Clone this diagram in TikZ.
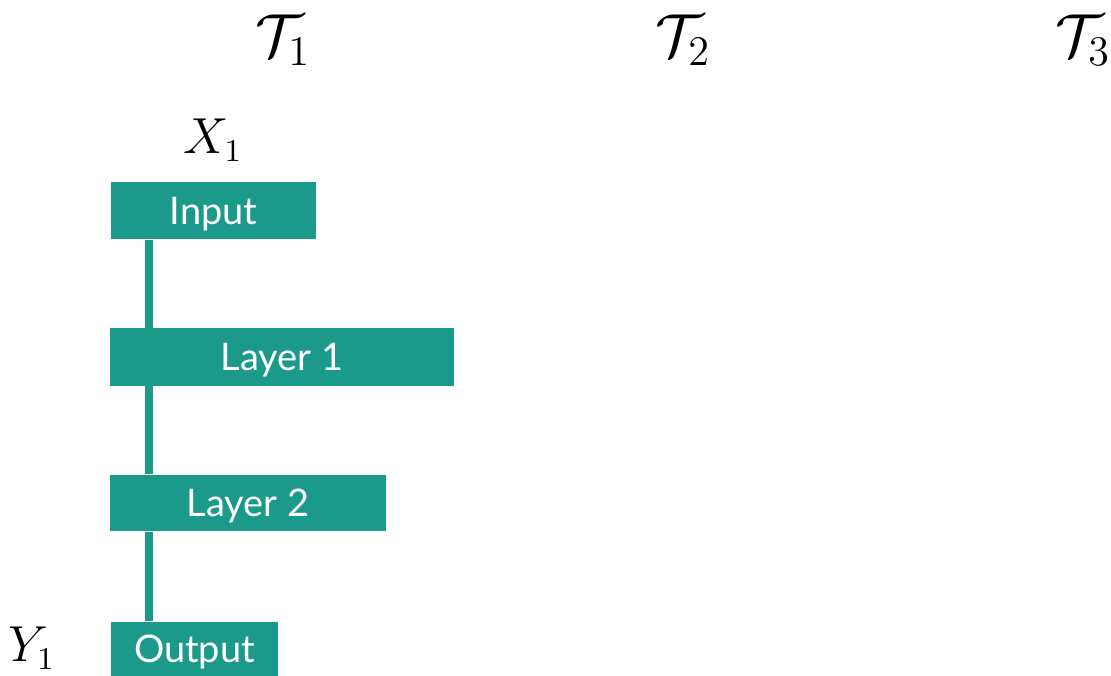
\documentclass[tikz,border=0pt]{standalone}
\usepackage{fontspec}
\newfontfamily\latofont{Lato}
\definecolor{teal1}{RGB}{27,153,139}
\begin{document}
\begin{tikzpicture}[x=0.01cm,y=-0.01cm,
  layerbox/.style={fill=teal1,draw=none,inner sep=0pt,text=white,
    text height=7.7pt,text depth=0pt,
    font=\latofont\fontsize{10.8}{12}\selectfont},
  conn/.style={draw=teal1,line width=0.75mm},
  mathlbl/.style={inner sep=0pt,font=\fontsize{13.5}{15}\selectfont},
  tasklbl/.style={inner sep=0pt,font=\fontsize{18}{20}\selectfont}]
\useasboundingbox (0,0) rectangle (1111,676);
\node[tasklbl] (t1) at (283,40) {$\mathcal{T}_1$};
\node[tasklbl] (t2) at (683,40) {$\mathcal{T}_2$};
\node[tasklbl] (t3) at (1083,40) {$\mathcal{T}_3$};
\node[mathlbl] (x1) at (213,140) {$X_1$};
\node[mathlbl] (y1) at (32,648) {$Y_1$};
\node[layerbox,minimum width=20.5mm,minimum height=5.7mm] (in) at (213.5,210.5) {Input};
\node[layerbox,minimum width=34.4mm,minimum height=5.7mm] (l1) at (282,357) {Layer 1};
\node[layerbox,minimum width=27.6mm,minimum height=5.6mm] (l2) at (248,503) {Layer 2};
\node[layerbox,minimum width=16.7mm,minimum height=5.4mm] (out) at (194.5,649) {Output};
\coordinate (lx) at (149,0);
\draw[conn] (in.south west -| lx) -- (l1.north west -| lx);
\draw[conn] (l1.south west -| lx) -- (l2.north west -| lx);
\draw[conn] (l2.south west -| lx) -- (out.north west -| lx);
\end{tikzpicture}
\end{document}
